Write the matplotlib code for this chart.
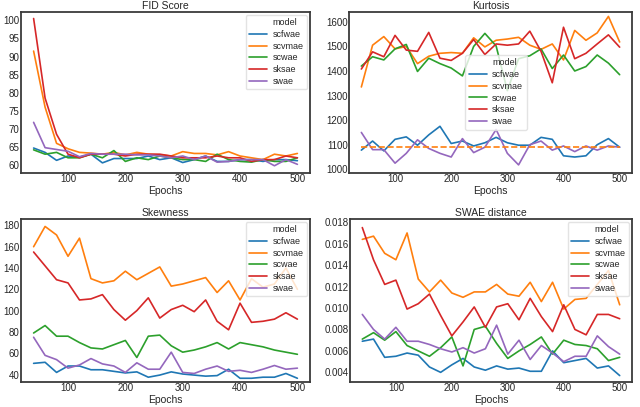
import matplotlib
matplotlib.use("Agg")
import matplotlib.pyplot as plt
import seaborn as sns
from matplotlib.lines import Line2D

sns.set_style("white")
plt.rcParams['font.family'] = ['Liberation Sans', 'DejaVu Sans']

epochs = list(range(40, 501, 20))
models = ["scfwae", "scvmae", "scwae", "sksae", "swae"]
colors = ["#1f77b4", "#ff7f0e", "#2ca02c", "#d62728", "#9467bd"]

# FID score
fid = {
    "scfwae": [64.7, 63.5, 61.3, 62.5, 62.2, 63.0, 60.6, 61.8, 61.8, 61.8, 62.5, 61.5,
               62.0, 60.7, 61.5, 62.5, 61.0, 61.0, 61.5, 61.5, 61.0, 61.5, 61.5, 61.2],
    "scvmae": [91.5, 76.0, 66.0, 64.5, 63.5, 63.3, 63.0, 63.5, 62.8, 63.5, 63.0, 62.8,
               62.5, 63.7, 63.2, 63.2, 62.8, 63.7, 62.5, 62.0, 61.5, 63.0, 62.5, 63.2],
    "scwae": [64.2, 63.0, 63.5, 62.0, 62.0, 63.0, 62.0, 64.0, 61.0, 62.0, 61.5, 62.5,
              62.0, 61.5, 61.5, 61.0, 63.0, 61.5, 61.0, 60.8, 61.5, 61.0, 61.0, 62.0],
    "sksae": [100.5, 78.5, 68.5, 63.0, 62.0, 63.0, 63.0, 63.0, 62.5, 63.0, 63.0, 63.0,
              62.5, 62.0, 62.0, 62.0, 62.5, 62.0, 62.0, 61.0, 61.5, 61.5, 62.5, 62.0],
    "swae": [71.8, 64.8, 64.3, 63.8, 62.3, 63.2, 63.0, 63.0, 63.0, 62.8, 62.8, 62.5,
             62.0, 62.5, 61.5, 62.5, 60.8, 61.0, 61.5, 61.5, 61.5, 59.8, 61.5, 60.2],
}

# Kurtosis
kurt = {
    "scfwae": [1078, 1115, 1075, 1122, 1132, 1098, 1140, 1175, 1105, 1115, 1095, 1108,
               1130, 1108, 1098, 1098, 1130, 1122, 1055, 1050, 1055, 1100, 1125, 1090],
    "scvmae": [1335, 1505, 1540, 1490, 1500, 1430, 1460, 1472, 1475, 1472, 1535, 1498,
               1525, 1530, 1537, 1505, 1488, 1510, 1445, 1565, 1525, 1555, 1622, 1518],
    "scwae": [1420, 1458, 1445, 1490, 1508, 1398, 1452, 1430, 1412, 1380, 1500, 1553,
              1502, 1320, 1450, 1462, 1490, 1410, 1465, 1400, 1418, 1465, 1432, 1385],
    "sksae": [1408, 1478, 1458, 1545, 1485, 1480, 1557, 1452, 1443, 1472, 1528, 1467,
              1510, 1505, 1510, 1562, 1480, 1352, 1578, 1450, 1472, 1510, 1547, 1497],
    "swae": [1150, 1080, 1080, 1025, 1065, 1120, 1085, 1065, 1050, 1125, 1068, 1090,
             1162, 1065, 1018, 1100, 1115, 1078, 1095, 1072, 1095, 1078, 1095, 1090],
}
kurt_ref = 1090

# Skewness
skew = {
    "scfwae": [50.5, 51.5, 42, 48, 48, 44.5, 44.5, 43, 41.5, 42.5, 37.5, 39.5,
               42.5, 40.5, 39.5, 38.5, 39, 45, 36.5, 36.5, 37.5, 37.5, 41, 36.5],
    "scvmae": [160, 179, 171, 151, 168, 130, 126, 128, 137, 129, 135, 141,
               123, 125, 128, 131, 117, 128, 110, 130, 122, 125, 140, 120],
    "scwae": [79, 86, 76, 76, 70, 65, 64, 68, 72, 56, 76, 77,
              67, 61, 63, 66, 70, 64, 70, 68, 66, 63, 61, 59],
    "sksae": [155, 142, 129, 126, 110, 111, 115, 101, 91, 100, 112, 93,
              101, 105, 99, 110, 90, 82, 107, 89, 90, 92, 98, 92],
    "swae": [75, 58, 54, 46, 49, 55, 50, 48, 42, 51, 45, 45,
             61, 42, 41, 45, 48, 43, 44, 42, 45, 48.5, 45, 46],
}

# SWAE distance
swd = {
    "scfwae": [0.0069, 0.0071, 0.0054, 0.0055, 0.0058, 0.0056, 0.0045, 0.0040, 0.0047, 0.0053, 0.0045, 0.0042,
               0.0046, 0.0043, 0.0044, 0.0041, 0.0041, 0.0060, 0.0049, 0.0051, 0.0053, 0.0044, 0.0046, 0.0037],
    "scvmae": [0.0164, 0.0167, 0.0151, 0.0145, 0.0170, 0.0127, 0.0115, 0.0126, 0.0114, 0.0110, 0.0115, 0.0115,
               0.0122, 0.0113, 0.0111, 0.0124, 0.0106, 0.0124, 0.0099, 0.0108, 0.0109, 0.0122, 0.0135, 0.0103],
    "scwae": [0.0071, 0.0077, 0.0070, 0.0078, 0.0065, 0.0060, 0.0055, 0.0063, 0.0073, 0.0046, 0.0080, 0.0083,
              0.0067, 0.0053, 0.0060, 0.0066, 0.0073, 0.0057, 0.0070, 0.0066, 0.0065, 0.0062, 0.0051, 0.0054],
    "sksae": [0.0175, 0.0145, 0.0122, 0.0126, 0.0099, 0.0104, 0.0113, 0.0093, 0.0074, 0.0087, 0.0101, 0.0082,
              0.0101, 0.0104, 0.0089, 0.0109, 0.0092, 0.0078, 0.0103, 0.0080, 0.0075, 0.0094, 0.0094, 0.0090],
    "swae": [0.0094, 0.0080, 0.0071, 0.0082, 0.0069, 0.0069, 0.0066, 0.0062, 0.0059, 0.0063, 0.0058, 0.0062,
             0.0084, 0.0057, 0.0070, 0.0052, 0.0065, 0.0058, 0.0050, 0.0055, 0.0055, 0.0074, 0.0064, 0.0057],
}

fs = 7
fig = plt.figure(figsize=(6.4, 4.07), dpi=100)
W, H = 640, 407
boxes = [(21, 12, 310, 173), (349, 12, 632, 173), (21, 219, 310, 382), (350, 219, 632, 382)]
axes = [fig.add_axes([l / W, 1 - b / H, (r - l) / W, (b - t) / H]) for l, t, r, b in boxes]

panels = [
    ("FID Score", fid, (57.8, 102.3), [60, 65, 70, 75, 80, 85, 90, 95, 100], None, "upper right"),
    ("Kurtosis", kurt, (985, 1640), [1000, 1100, 1200, 1300, 1400, 1500, 1600], None, (0.41, 0.27)),
    ("Skewness", skew, (33, 186), [40, 60, 80, 100, 120, 140, 160, 180], None, "upper right"),
    ("SWAE distance", swd, (0.0031, 0.0183), [0.004, 0.006, 0.008, 0.010, 0.012, 0.014, 0.016, 0.018],
     "{:.3f}", "upper right"),
]

for ax, (title, data, ylim, yticks, fmt, loc) in zip(axes, panels):
    handles = [Line2D([], [], linestyle="none")]
    for m, c in zip(models, colors):
        h, = ax.plot(epochs, data[m], color=c, lw=1.2)
        handles.append(h)
    if title == "Kurtosis":
        ax.plot([epochs[0], epochs[-1]], [kurt_ref, kurt_ref], color=colors[1], lw=1.2, ls="--")
    ax.set_title(title, fontsize=7.5, pad=2)
    ax.set_xlabel("Epochs", fontsize=7.5, labelpad=1)
    ax.set_xlim(18, 522)
    ax.set_xticks([100, 200, 300, 400, 500])
    ax.set_ylim(*ylim)
    ax.set_yticks(yticks)
    if fmt:
        ax.set_yticklabels([fmt.format(v) for v in yticks])
    ax.tick_params(labelsize=fs, pad=1, length=0)
    for s in ax.spines.values():
        s.set_color("#3a3a3a")
        s.set_linewidth(1.3)
    leg = ax.legend(handles, ["model"] + models, loc=loc, fontsize=6.5, frameon=True,
                    handlelength=2.0, labelspacing=0.3, borderpad=0.4, handletextpad=0.6,
                    borderaxespad=0.3)
    leg.get_frame().set_edgecolor("#dddddd")

fig.savefig("out.png", dpi=100)
